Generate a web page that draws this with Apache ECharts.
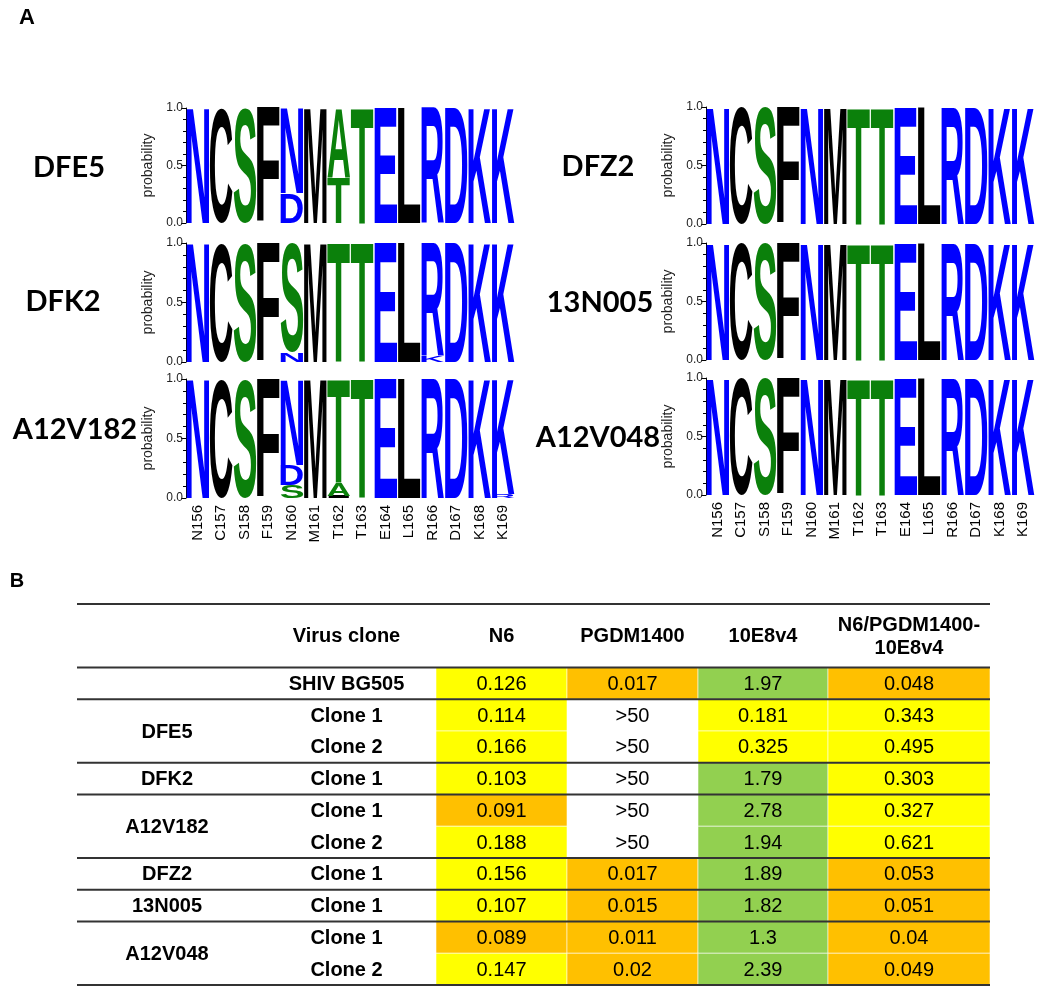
<!DOCTYPE html>
<html lang="en">
<head>
    <meta charset="UTF-8">
    <title>Sequence logos and IC50 table</title>
    <script type="text/javascript" src="https://cdn.jsdelivr.net/npm/echarts@6/dist/echarts.min.js"></script>
    <style>html, body { margin: 0; padding: 0; background: #fff; }</style>
</head>
<body>
<div id="main" style="width: 1050px;height:994px;"></div>
<script type="text/javascript">
    // ---- data ----
    var positions = ['N156','C157','S158','F159','N160','M161','T162','T163','E164','L165','R166','D167','K168','K169'];

    // per position: letters from bottom to top, "letter:probability"
    var logoDFE5    = ['N','C','S','F','D:0.26 N:0.74','M','T:0.40 A:0.60','T','E','L','R','D','K','K'];
    var logoDFK2    = ['N','C','S','F','N:0.08 S:0.92','M','T','T','E','L','K:0.05 R:0.95','D','K','K'];
    var logoA12V182 = ['N','C','S','F','S:0.11 D:0.17 N:0.72','M','I:0.02 A:0.11 T:0.87','T','E','L','R','D','K','R:0.03 K:0.97'];
    var logoDFZ2    = ['N','C','S','F','N','M','T','T','E','L','R','D','K','K'];
    var logo13N005  = ['N','C','S','F','N','M','T','T','E','L','R','D','K','K'];
    var logoA12V048 = ['N','C','S','F','N','M','T','T','E','L','R','D','K','K'];

    var logoNames = ['DFE5','DFK2','A12V182','DFZ2','13N005','A12V048'];
    var logos = [logoDFE5, logoDFK2, logoA12V182, logoDFZ2, logo13N005, logoA12V048];

    // table
    var colHeaders  = ['Virus clone','N6','PGDM1400','10E8v4','N6/PGDM1400-\n10E8v4'];
    var groupNames  = ['DFE5','DFK2','A12V182','DFZ2','13N005','A12V048'];
    var groupSizes  = [2, 1, 2, 1, 1, 2];
    var cloneLabels = ['SHIV BG505','Clone 1','Clone 2','Clone 1','Clone 1','Clone 2','Clone 1','Clone 1','Clone 1','Clone 2'];
    var n6IC50      = ['0.126','0.114','0.166','0.103','0.091','0.188','0.156','0.107','0.089','0.147'];
    var pgdmIC50    = ['0.017','>50','>50','>50','>50','>50','0.017','0.015','0.011','0.02'];
    var e8IC50      = ['1.97','0.181','0.325','1.79','2.78','1.94','1.89','1.82','1.3','2.39'];
    var comboIC50   = ['0.048','0.343','0.495','0.303','0.327','0.621','0.053','0.051','0.04','0.049'];

    // ---- helpers ----
    var letterColor = {
        N: '#0000ff', D: '#0000ff', E: '#0000ff', K: '#0000ff', R: '#0000ff',
        S: '#0b800b', T: '#0b800b', A: '#0b800b',
        C: '#000', F: '#000', M: '#000', L: '#000', I: '#000'
    };
    var LOGO_FONT = 'bold 100px "Liberation Sans"';
    var glyphCache = {};
    var measureCtx = document.createElement('canvas').getContext('2d');
    function glyph(ch) {
        if (!glyphCache[ch]) {
            measureCtx.font = LOGO_FONT;
            measureCtx.textAlign = 'left';
            measureCtx.textBaseline = 'middle';
            var m = measureCtx.measureText(ch);
            glyphCache[ch] = {
                l: m.actualBoundingBoxLeft,
                w: m.actualBoundingBoxLeft + m.actualBoundingBoxRight,
                a: m.actualBoundingBoxAscent,
                h: m.actualBoundingBoxAscent + m.actualBoundingBoxDescent
            };
        }
        return glyphCache[ch];
    }

    function stackLogo(cols) {
        var out = [];
        cols.forEach(function (s, i) {
            var y = 0;
            s.split(' ').forEach(function (part) {
                var p = part.split(':');
                var v = p.length > 1 ? parseFloat(p[1]) : 1;
                out.push({value: [i, y, y + v], letter: p[0]});
                y += v;
            });
        });
        return out;
    }

    function logoRender(list) {
        return function (params, api) {
            var d = list[params.dataIndex];
            var bw = api.size([1, 0])[0];
            var p0 = api.coord([d.value[0], d.value[1]]);
            var p1 = api.coord([d.value[0], d.value[2]]);
            var h = p0[1] - p1[1];
            var g = glyph(d.letter);
            var pad = 0.4;
            return {
                type: 'text',
                x: p0[0] - bw / 2 + pad,
                y: p1[1],
                scaleX: (bw - 2 * pad) / g.w,
                scaleY: h / g.h,
                style: {
                    text: d.letter, x: g.l, y: g.a, font: LOGO_FONT,
                    fill: letterColor[d.letter], align: 'left', verticalAlign: 'middle'
                }
            };
        };
    }

    function cellColor(s) {
        if (s.charAt(0) === '>') return null;
        var v = parseFloat(s);
        if (v < 0.1) return '#ffc000';
        if (v < 1) return '#ffff00';
        return '#92d050';
    }

    // table cells: col index, row start, row end (row units), text
    var tableCells = [];
    colHeaders.forEach(function (t, k) {
        tableCells.push({col: k + 1, r0: 0, r1: 2, text: t, bold: true});
    });
    var r = 3;
    groupNames.forEach(function (g, k) {
        tableCells.push({col: 0, r0: r, r1: r + groupSizes[k], text: g, bold: true});
        r += groupSizes[k];
    });
    [n6IC50, pgdmIC50, e8IC50, comboIC50].forEach(function (arr, k) {
        arr.forEach(function (t, i) {
            tableCells.push({col: k + 2, r0: i + 2, r1: i + 3, text: t, fill: cellColor(t)});
        });
    });
    cloneLabels.forEach(function (t, i) {
        tableCells.push({col: 1, r0: i + 2, r1: i + 3, text: t, bold: true});
    });
    var ruleRows = [0, 2, 3, 5, 6, 8, 9, 10, 12];
    var colEdges = [0, 180, 359, 490, 621, 751, 913];

    // ---- layout ----
    var logoGrids = [
        {left: 186, top: 108, width: 329, height: 115},
        {left: 186, top: 243, width: 329, height: 119},
        {left: 186, top: 379, width: 329, height: 119},
        {left: 706, top: 107, width: 329, height: 117},
        {left: 706, top: 243, width: 329, height: 117},
        {left: 706, top: 378, width: 329, height: 117}
    ];
    var namePos = [[69, 168], [63, 302], [75, 430], [598, 167], [600, 303], [598, 438]];

    var grids = [], xAxes = [], yAxes = [], series = [], graphics = [];
    logoGrids.forEach(function (g, k) {
        g.outerBoundsMode = 'none';
        grids.push(g);
        var bottom = (k === 2 || k === 5);
        xAxes.push({
            type: 'category', gridIndex: k, data: positions,
            axisLine: {show: false}, axisTick: {show: false}, splitLine: {show: false},
            axisLabel: {show: bottom, rotate: 90, margin: 7, fontSize: 15, color: '#000',
                fontFamily: 'Liberation Sans', interval: 0}
        });
        yAxes.push({
            type: 'value', gridIndex: k, min: 0, max: 1, interval: 0.5,
            name: 'probability', nameLocation: 'middle', nameGap: 31, nameRotate: 90,
            nameTextStyle: {fontSize: 14, color: '#222', fontFamily: 'Liberation Sans'},
            axisLine: {show: true, lineStyle: {color: '#000', width: 1}},
            axisTick: {show: true, length: 5, lineStyle: {color: '#000'}},
            minorTick: {show: true, splitNumber: 5, length: 3, lineStyle: {color: '#000'}},
            splitLine: {show: false},
            axisLabel: {fontSize: 12, color: '#222', margin: 3, fontFamily: 'Liberation Sans',
                formatter: function (v) { return v.toFixed(1); }}
        });
        var list = stackLogo(logos[k]);
        series.push({
            type: 'custom', xAxisIndex: k, yAxisIndex: k,
            data: list.map(function (d) { return d.value; }),
            renderItem: logoRender(list)
        });
        graphics.push({
            type: 'text', x: namePos[k][0], y: namePos[k][1],
            style: {text: logoNames[k], font: 'bold 29px Lato', fill: '#000', align: 'center', verticalAlign: 'middle'}
        });
    });

    // table grid
    grids.push({left: 77, top: 604, width: 913, height: 381, outerBoundsMode: 'none'});
    xAxes.push({type: 'value', gridIndex: 6, min: 0, max: 913, show: false});
    yAxes.push({type: 'value', gridIndex: 6, min: 0, max: 12, inverse: true, show: false});

    series.push({
        type: 'custom', xAxisIndex: 6, yAxisIndex: 6,
        data: tableCells.map(function (c) { return [colEdges[c.col], c.r0]; }),
        renderItem: function (params, api) {
            var c = tableCells[params.dataIndex];
            var a = api.coord([colEdges[c.col], c.r0]);
            var b = api.coord([colEdges[c.col + 1], c.r1]);
            var children = [];
            if (c.fill) {
                children.push({
                    type: 'rect',
                    shape: {x: a[0], y: a[1], width: b[0] - a[0], height: b[1] - a[1]},
                    style: {fill: c.fill, stroke: 'rgba(255,255,255,0.55)', lineWidth: 1}
                });
            }
            children.push({
                type: 'text',
                x: (a[0] + b[0]) / 2, y: (a[1] + b[1]) / 2 + 1,
                style: {
                    text: c.text, fill: '#000', align: 'center', verticalAlign: 'middle',
                    font: (c.bold ? 'bold ' : '') + '20px "Liberation Sans"', lineHeight: 23
                }
            });
            return {type: 'group', children: children};
        }
    });
    series.push({
        type: 'custom', xAxisIndex: 6, yAxisIndex: 6, z: 5,
        data: ruleRows.map(function (v) { return [0, v]; }),
        renderItem: function (params, api) {
            var a = api.coord([0, api.value(1)]);
            var b = api.coord([913, api.value(1)]);
            return {
                type: 'line',
                shape: {x1: a[0], y1: a[1], x2: b[0], y2: b[1]},
                style: {stroke: '#333', lineWidth: 2}
            };
        }
    });

    graphics.push({type: 'text', x: 27, y: 18,
        style: {text: 'A', font: 'bold 22px "Liberation Sans"', fill: '#000', align: 'center', verticalAlign: 'middle'}});
    graphics.push({type: 'text', x: 17, y: 581,
        style: {text: 'B', font: 'bold 20px "Liberation Sans"', fill: '#000', align: 'center', verticalAlign: 'middle'}});

    var myChart = echarts.init(document.getElementById('main'));
    myChart.setOption({
        animation: false,
        backgroundColor: '#fff',
        grid: grids,
        xAxis: xAxes,
        yAxis: yAxes,
        series: series,
        graphic: graphics
    });
</script>
</body>
</html>
